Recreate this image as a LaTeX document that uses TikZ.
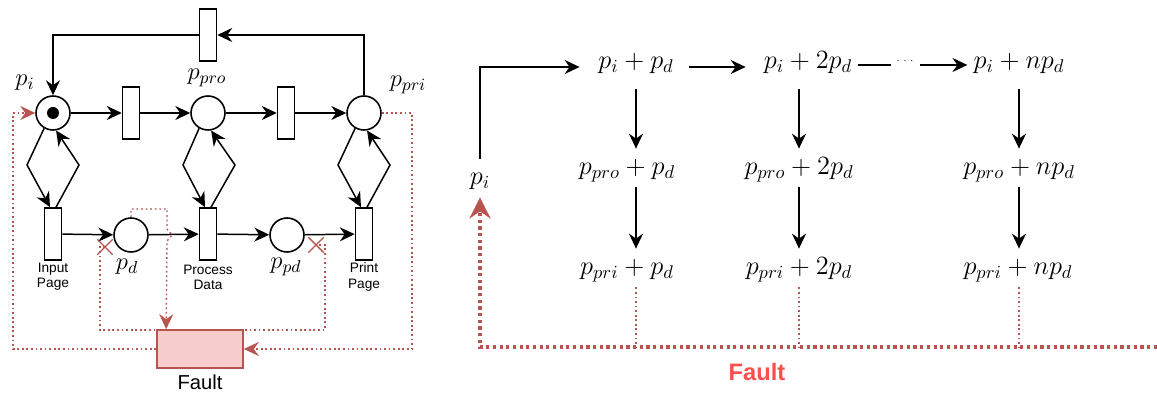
\RequirePackage{fix-cm}
\documentclass[tikz,border=0pt]{standalone}
\usepackage{fontspec}
\setsansfont{Liberation Sans}
\usepackage{tikz}
\usetikzlibrary{arrows.meta,shapes.misc}
\definecolor{faultline}{HTML}{B85450}
\definecolor{faultfill}{HTML}{F8CECC}
\definecolor{faulttext}{HTML}{FF4D4D}
\tikzset{
  place/.style={circle, draw, line width=0.9pt, minimum size=0.68cm, inner sep=0pt},
  transition/.style={rectangle, draw, line width=0.9pt, minimum width=0.34cm, minimum height=1.04cm, inner sep=0pt},
  token/.style={circle, fill=black, minimum size=0.24cm, inner sep=0pt},
  flow/.style={draw, line width=0.85pt, -{Stealth[length=8.5pt,width=8pt,inset=2.8pt]}},
  link/.style={draw, line width=0.85pt},
  fpath/.style={draw=faultline, line width=0.8pt, dash pattern=on 1pt off 1.6pt},
  farr/.style={fpath, -{Stealth[length=8.5pt,width=8pt,inset=2.8pt]}},
  fbig/.style={draw=faultline, line width=1.8pt, dash pattern=on 1.8pt off 2pt},
  xmark/.style={cross out, draw=faultline, line width=0.8pt, minimum size=0.28cm, inner sep=0pt},
  faultbox/.style={rectangle, draw=faultline, fill=faultfill, line width=1pt, minimum width=1.72cm, minimum height=0.76cm},
  labm/.style={font=\fontsize{14}{16}\selectfont},
  labs/.style={font=\fontsize{7.8}{8.6}\sffamily, align=center, inner sep=0pt},
  stnode/.style={font=\fontsize{15}{18}\selectfont, text height=11pt, text depth=4pt}
}

\begin{document}
\begin{tikzpicture}[x=0.02cm, y=-0.02cm]
  \useasboundingbox (0,0) rectangle (1157,394);

  % petri net
  \node[place] (pi) at (53,113) {};
  \node[token] (tok) at (pi) {};
  \node[transition] (tin) at (131,113) {};
  \node[place] (ppro) at (208,113) {};
  \node[transition] (tpro) at (286,113) {};
  \node[place] (ppri) at (364,113) {};
  \node[transition] (tret) at (208,35) {};

  \node[transition] (tinput) at (53,234) {};
  \node[place] (pd) at (131,235) {};
  \node[transition] (tproc) at (208,234) {};
  \node[place] (ppd) at (287,235) {};
  \node[transition] (tprint) at (364,234) {};

  \draw[flow] (pi) -- (tin);
  \draw[flow] (tin) -- (ppro);
  \draw[flow] (ppro) -- (tpro);
  \draw[flow] (tpro) -- (ppri);
  \draw[flow] (ppri.north) |- (tret.east);
  \draw[flow] (tret.west) -| (pi.north);

  \draw[flow] (pi.-120) -- (27,165) -- ([xshift=-0.06cm]tinput.north);
  \draw[flow] ([xshift=0.06cm]tinput.north) -- (79,165) -- (pi.-80);
  \draw[flow] (ppro.-120) -- (183,165) -- ([xshift=-0.06cm]tproc.north);
  \draw[flow] ([xshift=0.06cm]tproc.north) -- (235,165) -- (ppro.-80);
  \draw[flow] (ppri.-120) -- (338,165) -- ([xshift=-0.06cm]tprint.north);
  \draw[flow] ([xshift=0.06cm]tprint.north) -- (390,165) -- (ppri.-80);

  \draw[flow] (tinput) -- (pd);
  \draw[flow] (pd) -- (tproc);
  \draw[flow] (tproc) -- (ppd);
  \draw[flow] (ppd) -- (tprint);

  \node[labm] (lpi) at (25,83) {$p_i$};
  \node[labm] (lppro) at (207,78) {$p_{pro}$};
  \node[labm] (lppri) at (408,85) {$p_{pri}$};
  \node[labm] (lpd) at (127,267) {$p_d$};
  \node[labm] (lppd) at (286,267) {$p_{pd}$};
  \node[labs] (linput) at (53,277) {Input\\Page};
  \node[labs] (lproc) at (208,277) {Process\\Data};
  \node[labs] (lprint) at (364,277) {Print\\Page};

  % fault paths
  \node[xmark] (xd) at (105,247) {};
  \node[xmark] (xpd) at (316,245) {};
  \draw[fpath] (xd.center) -| (100,330) -- (325,330) |- (xpd.center);
  \node[faultbox] (fault) at (200,349) {};
  \node[font=\fontsize{11.5}{13}\sffamily] (lfault) at (200,382) {Fault};
  \draw[farr] (pd.north) -- (131,209) -- (167,209) -- (167,229) -- (172,235) -- (167,241) -- ([xshift=0.2cm]fault.north west);
  \draw[farr] (ppri.east) -- (412,113) |- (fault.east);
  \draw[farr] (fault.west) -| (13,113) -- (pi.west);

  % reachable markings
  \node[stnode] (s0) at (480,178) {$p_i$};
  \node[stnode] (a1) at (636,62) {$p_i + p_d$};
  \node[stnode] (a2) at (808,62) {$p_i + 2p_d$};
  \node[stnode] (a3) at (1019,62) {$p_i + np_d$};
  \node[stnode] (b1) at (627,168) {$p_{pro} + p_d$};
  \node[stnode] (b2) at (799,168) {$p_{pro} + 2p_d$};
  \node[stnode] (b3) at (1019,168) {$p_{pro} + np_d$};
  \node[stnode] (c1) at (627,268) {$p_{pri} + p_d$};
  \node[stnode] (c2) at (799,268) {$p_{pri} + 2p_d$};
  \node[stnode] (c3) at (1018,268) {$p_{pri} + np_d$};

  \draw[flow, shorten >=0.25cm] (s0.north) |- ([yshift=-0.1cm]a1.west);
  \draw[flow, shorten <=0.18cm, shorten >=0.24cm] ([yshift=-0.1cm]a1.east) -- ([yshift=-0.1cm]a2.west);
  \coordinate (dl) at (891,65);
  \coordinate (dr) at (920,65);
  \node[font=\fontsize{5.5}{6}\selectfont, inner sep=0pt] (dd) at (905,61) {$\cdots$};
  \draw[link] (a2.east |- dl) -- (dl);
  \draw[flow] (dr) -- (a3.west |- dr);

  \draw[flow, shorten <=0.16cm] (a1.south) -- (a1.south |- b1.north);
  \draw[flow, shorten <=0.16cm] (b2 |- a2.south) -- (b2.north);
  \draw[flow, shorten <=0.16cm] (a3.south) -- (a3.south |- b3.north);
  \draw[flow] (a1.south |- b1.south) -- (a1.south |- c1.north);
  \draw[flow] (b2.south) -- (c2.north);
  \draw[flow] (a3.south |- b3.south) -- (a3.south |- c3.north);

  \coordinate (fl) at (1157,347);
  \draw[fpath, line width=0.6pt] (a1 |- c1.south) -- (a1 |- fl);
  \draw[fpath, line width=0.6pt] (c2.south) -- (c2 |- fl);
  \draw[fpath, line width=0.6pt] (a3 |- c3.south) -- (a3 |- fl);
  \draw[fbig, -{Stealth[length=12pt,width=12pt,inset=4pt]}] (fl) -| (s0.south);
  \node[font=\fontsize{13.5}{15}\sffamily\bfseries, text=faulttext] (lfault2) at (757,372) {Fault};
\end{tikzpicture}
\end{document}
